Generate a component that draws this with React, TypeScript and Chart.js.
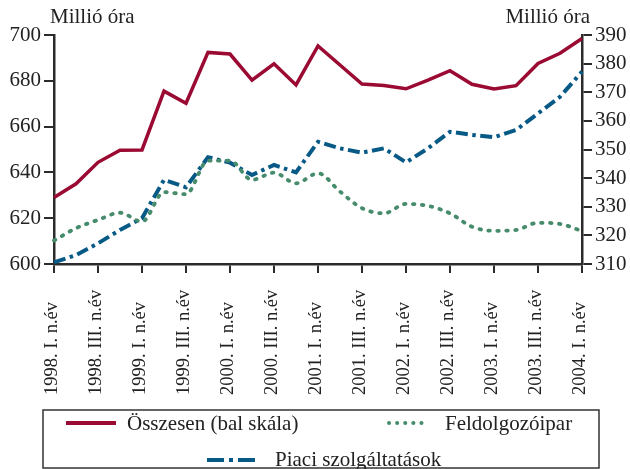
import { useEffect, useRef } from 'react';
import { Chart, registerables } from 'chart.js';

Chart.register(...registerables);

const quarterLabels = [
  '1998. I. n.év', '1998. II. n.év', '1998. III. n.év', '1998. IV. n.év',
  '1999. I. n.év', '1999. II. n.év', '1999. III. n.év', '1999. IV. n.év',
  '2000. I. n.év', '2000. II. n.év', '2000. III. n.év', '2000. IV. n.év',
  '2001. I. n.év', '2001. II. n.év', '2001. III. n.év', '2001. IV. n.év',
  '2002. I. n.év', '2002. II. n.év', '2002. III. n.év', '2002. IV. n.év',
  '2003. I. n.év', '2003. II. n.év', '2003. III. n.év', '2003. IV. n.év',
  '2004. I. n.év',
];

const osszesen = [629, 635, 644.4, 649.7, 649.8, 675.5, 670.2, 692.4, 691.7, 680.3, 687.4, 678.2, 695.2, 686.9, 678.6, 677.9, 676.5, 680.3, 684.4, 678.5, 676.4, 677.9, 687.6, 692, 698.5];
const feldolgozoipar = [318.2, 322.5, 325.4, 327.9, 324.8, 335.1, 334.4, 346.1, 346.1, 339.4, 341.9, 338.2, 341.7, 335.3, 329.5, 327.7, 331.0, 330.3, 327.7, 323.0, 321.6, 321.9, 324.4, 324.0, 321.5];
const piaci = [310.6, 313.1, 317.2, 321.9, 326.0, 339.4, 336.8, 347.3, 345.4, 341.1, 344.6, 342.0, 352.7, 350.4, 348.9, 350.4, 345.5, 350.4, 356.2, 355.1, 354.3, 356.8, 362.6, 368.4, 377.2];

const axisTitle = 'Millió óra';
const seriesNames = ['Összesen (bal skála)', 'Feldolgozóipar', 'Piaci szolgáltatások'];

const RED = '#9a0a32';
const BLUE = '#085a86';
const GREEN = '#468c6c';
const AXIS = '#2b2b2b';
const FONT = 'Liberation Serif';

const GREEN_DASH = [1.5, 7.5];
const BLUE_DASH = [12, 4.5, 3.5, 4.5];

const overlayPlugin = {
  id: 'overlay',
  afterDraw(chart: any) {
    const ctx = chart.ctx as CanvasRenderingContext2D;
    ctx.save();
    ctx.fillStyle = '#222';
    ctx.font = `21px "${FONT}"`;
    ctx.textBaseline = 'middle';
    ctx.textAlign = 'left';
    ctx.fillText(axisTitle, 50, 17);
    ctx.textAlign = 'right';
    ctx.fillText(axisTitle, 590, 17);

    // x-axis category labels (every second quarter), rotated
    const xs = chart.scales.x;
    ctx.font = `18.5px "${FONT}"`;
    ctx.textAlign = 'left';
    ctx.textBaseline = 'alphabetic';
    quarterLabels.forEach((lab, i) => {
      if (i % 2 !== 0) return;
      const px = xs.getPixelForValue(i);
      ctx.save();
      ctx.translate(px + 3, 395);
      ctx.rotate(-Math.PI / 2);
      ctx.fillText(lab, 0, 0);
      ctx.restore();
    });

    // legend box
    ctx.strokeStyle = '#333';
    ctx.lineWidth = 1.5;
    ctx.strokeRect(43, 410, 556, 58);

    const drawSample = (x1: number, x2: number, y: number, color: string, dash: number[], width: number, cap: CanvasLineCap) => {
      ctx.beginPath();
      ctx.strokeStyle = color;
      ctx.lineWidth = width;
      ctx.setLineDash(dash);
      ctx.lineCap = cap;
      ctx.moveTo(x1, y);
      ctx.lineTo(x2, y);
      ctx.stroke();
      ctx.setLineDash([]);
    };
    drawSample(66, 116, 423, RED, [], 4, 'butt');
    drawSample(389, 428, 423, GREEN, [0.1, 8], 4, 'round');
    drawSample(207, 260, 460, BLUE, [17, 5, 4, 5], 4, 'butt');

    ctx.fillStyle = '#222';
    ctx.textAlign = 'left';
    ctx.textBaseline = 'middle';
    ctx.font = `21px "${FONT}"`;
    ctx.fillText(seriesNames[0], 127, 424);
    ctx.fillText(seriesNames[1], 445, 424);
    ctx.fillText(seriesNames[2], 275, 460);
    ctx.restore();
  },
};

export default function App() {
  const ref = useRef<HTMLCanvasElement | null>(null);

  useEffect(() => {
    document.body.style.margin = '0';
    const canvas = ref.current;
    if (!canvas) return;
    const chart = new Chart(canvas, {
      type: 'line',
      data: {
        labels: quarterLabels,
        datasets: [
          {
            label: seriesNames[0],
            data: osszesen,
            yAxisID: 'yL',
            borderColor: RED,
            borderWidth: 3.5,
            pointRadius: 0,
            tension: 0,
            borderJoinStyle: 'miter',
          },
          {
            label: seriesNames[1],
            data: feldolgozoipar,
            yAxisID: 'yR',
            borderColor: GREEN,
            borderWidth: 3.8,
            borderDash: GREEN_DASH,
            borderCapStyle: 'round',
            pointRadius: 0,
            cubicInterpolationMode: 'monotone',
          },
          {
            label: seriesNames[2],
            data: piaci,
            yAxisID: 'yR',
            borderColor: BLUE,
            borderWidth: 4,
            borderDash: BLUE_DASH,
            pointRadius: 0,
            tension: 0,
          },
        ],
      },
      options: {
        responsive: false,
        animation: false,
        layout: { padding: { top: 35, left: 0, right: 0, bottom: 0 } },
        plugins: {
          legend: { display: false },
          tooltip: { enabled: false },
          title: { display: false },
        },
        scales: {
          x: {
            type: 'category',
            offset: false,
            border: { display: true, color: AXIS, width: 2.5 },
            grid: {
              drawOnChartArea: false,
              drawTicks: true,
              tickLength: 9,
              lineWidth: 2,
              color: (c: any) => (c.index % 2 === 0 ? AXIS : 'rgba(0,0,0,0)'),
            },
            ticks: {
              display: false,
              autoSkip: false,
            },
            afterFit: (s: any) => { s.height = 205; },
          },
          yL: {
            position: 'left',
            min: 600,
            max: 700,
            border: { display: true, color: AXIS, width: 2.5 },
            grid: { drawOnChartArea: false, drawTicks: true, tickLength: 10, lineWidth: 2, color: AXIS },
            ticks: {
              stepSize: 20,
              padding: 3,
              color: '#222',
              font: { family: FONT, size: 21 },
            },
            afterFit: (s: any) => { s.width = 54; },
          },
          yR: {
            position: 'right',
            min: 310,
            max: 390,
            border: { display: true, color: AXIS, width: 2.5 },
            grid: { drawOnChartArea: false, drawTicks: true, tickLength: 10, lineWidth: 2, color: AXIS },
            ticks: {
              stepSize: 10,
              padding: 3,
              color: '#222',
              font: { family: FONT, size: 21 },
            },
            afterFit: (s: any) => { s.width = 48; },
          },
        },
      },
      plugins: [overlayPlugin],
    } as any);
    return () => chart.destroy();
  }, []);

  return (
    <div style={{ width: 630, height: 469, background: '#fff' }}>
      <canvas ref={ref} width={630} height={469} />
    </div>
  );
}
